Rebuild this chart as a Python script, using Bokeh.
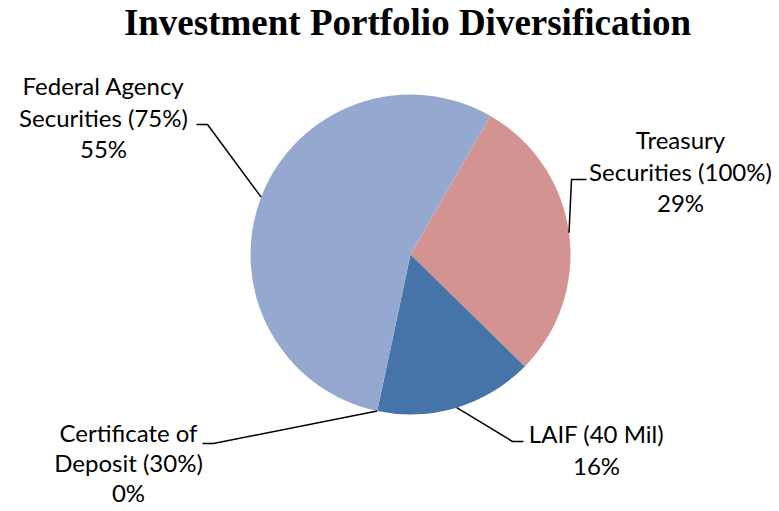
import math
from bokeh.plotting import figure
from bokeh.models import Range1d
from bokeh.core.properties import value
from bokeh.embed import file_html
from bokeh.resources import INLINE

# ---- data ----
categories = ["Treasury Securities (100%)", "LAIF (40 Mil)", "Certificate of Deposit (30%)", "Federal Agency Securities (75%)"]
shares = [29, 16, 0, 55]
colors = ["#D39391", "#4674A8", "#7F9FCB", "#95A9D0"]
label_lines = [
    ["Treasury", "Securities (100%)", "29%"],
    ["LAIF (40 Mil)", "16%"],
    ["Certificate of", "Deposit (30%)", "0%"],
    ["Federal Agency", "Securities (75%)", "55%"],
]
title = "Investment Portfolio Diversification"

# ---- layout (page pixel coordinates) ----
CX, CY, R = 410, 254, 160
START_DEG = 30  # first slice starts 30 deg clockwise from top
LABEL_FONT = "Lato"
LABEL_SIZE = 24
# label centre x, first-line centre y, line spacing
label_pos = [(680, 139, 31.5), (596, 433, 31.5), (128, 432, 30), (103, 85, 31.5)]
# leader: text-side end point, elbow point
leader_pts = [((586, 179), (571, 179)), ((523, 441), (512, 441)),
              ((202, 443), (213, 443)), ((196, 124), (207, 124))]

W, H = 779, 511
p = figure(width=W, height=H, output_backend="svg", toolbar_location=None,
           x_range=Range1d(0, W), y_range=Range1d(-H, 0),
           min_border=0)
p.axis.visible = False
p.grid.visible = False
p.outline_line_color = None
p.background_fill_color = "white"
p.border_fill_color = "white"

total = float(sum(shares))
theta = START_DEG
mids = []
for v, c in zip(shares, colors):
    span = v / total * 360.0
    t0, t1 = theta, theta + span
    mids.append((t0 + t1) / 2)
    if v > 0:
        p.wedge(x=CX, y=-CY, radius=R,
                start_angle=math.radians(90 - t0), end_angle=math.radians(90 - t1),
                direction="clock", fill_color=c, line_color=None)
    theta = t1

# leader lines
for m, (a, b) in zip(mids, leader_pts):
    ex = CX + R * math.sin(math.radians(m))
    ey = CY - R * math.cos(math.radians(m))
    p.line(x=[a[0], b[0], ex], y=[-a[1], -b[1], -ey], line_color="black", line_width=1.5)

# labels
for lines, (lx, ly, lh) in zip(label_lines, label_pos):
    xs = [lx] * len(lines)
    ys = [-(ly + i * lh) for i in range(len(lines))]
    p.text(x=xs, y=ys, text=lines, text_align="center", text_baseline="middle",
           text_font=value(LABEL_FONT), text_font_size=f"{LABEL_SIZE}px", text_color="black")

# title
p.text(x=[407], y=[-22], text=[title], text_align="center", text_baseline="middle",
       text_font=value("Liberation Serif"), text_font_style="bold",
       text_font_size="37px", text_color="black")

open("out.html", "w").write(file_html(p, INLINE))
